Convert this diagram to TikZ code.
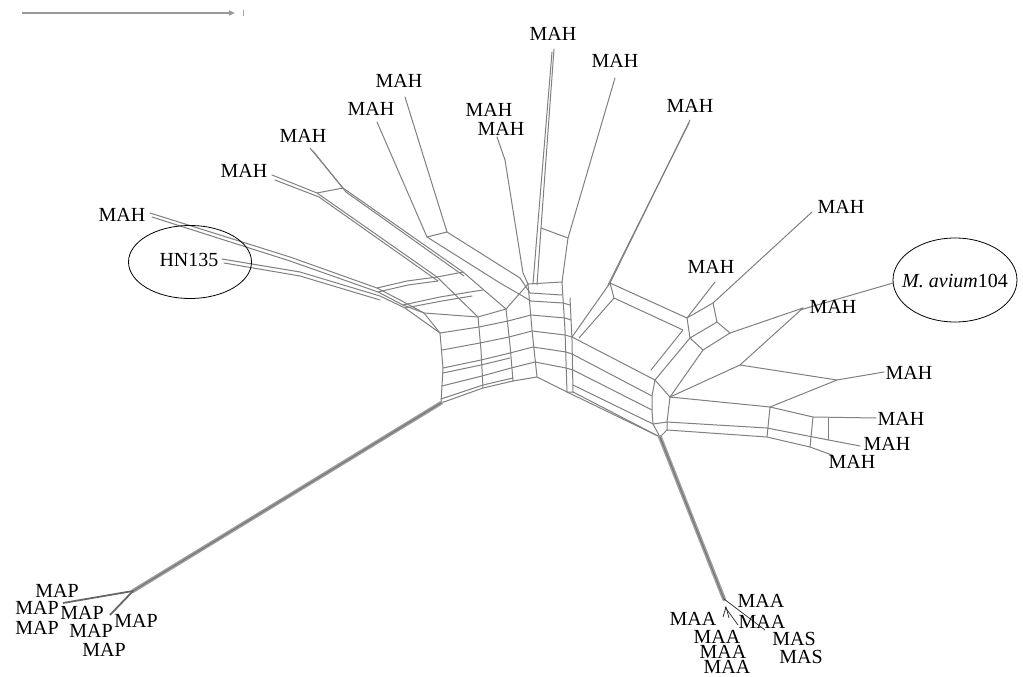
\documentclass[tikz,border=0pt]{standalone}
\usepackage{fontspec}
\setmainfont{Liberation Serif}
\usetikzlibrary{shapes.geometric}
\begin{document}
\begin{tikzpicture}[x=1pt,y=-1pt,
  net/.style={draw=black!50, line width=1pt, line join=round, line cap=round},
  trunk/.style={draw=black!38, line width=4pt, line cap=round},
  trunkcore/.style={draw=black!55, line width=1pt},
  twig/.style={draw=black!85, line width=0.7pt},
  lbl/.style={anchor=base, inner sep=0pt, font=\fontsize{20}{22}\selectfont},
  ring/.style={draw=black, line width=0.8pt, ellipse, inner sep=0pt}]
\useasboundingbox (0,0) rectangle (1023,677);
\fill[white] (0,0) rectangle (1023,677);

% ---------- scale bar ----------
\coordinate (sb0) at (22,13);
\coordinate (sb1) at (233,13);
\draw[black!40, line width=1.2pt] (sb0) -- (sb1);
\draw[black!40, line width=1.4pt] (229,11) -- (sb1) -- (229,15);
\draw[black!35, line width=0.8pt] (243,10) -- (243,16);

% ---------- leaf tips ----------
\coordinate (t1) at (150,213);
\coordinate (t2) at (222,259);
\coordinate (t3) at (272,175);
\coordinate (t4) at (310,148);
\coordinate (t5) at (377,122);
\coordinate (t6) at (405,97);
\coordinate (t7) at (497,137);
\coordinate (t8) at (554,49);
\coordinate (t9) at (615,78);
\coordinate (t10) at (690,120);
\coordinate (t11) at (812,212);
\coordinate (t12) at (715,282);
\coordinate (t13) at (893,283);
\coordinate (t14) at (803,308);
\coordinate (t15) at (884,372);
\coordinate (t16) at (876,418);
\coordinate (t17) at (860,446);
\coordinate (t18) at (832,455);
\coordinate (jp) at (133,591);
\coordinate (ja) at (724,599);

% ---------- hub ----------
\coordinate (c0) at (400,300);
\coordinate (c1) at (424,313);
\coordinate (c2) at (440,333);
\coordinate (c3) at (443,368);
\coordinate (c4) at (441,403);
\coordinate (h1) at (567,392);
\coordinate (h2) at (660,437);

\draw[net] (c0) -- (c1) -- (c2) -- (c3) -- (c4);
% verticals of the left block
\draw[net] (478,317) -- (481,350) -- (483,388);
\draw[net] (506,309) -- (510,345) -- (513,381);
\draw[net] (528,284) -- (532,330) -- (537,377);
\draw[net] (562,282) -- (565,330) -- (h1);
\draw[net] (570,298) -- (572,340) -- (573,392);
% bands across the hub
\draw[net] (c1) -- (478,317) -- (506,309) -- (528,284) -- (562,282);
\draw[net] (c2) -- (479,327) -- (508,321) -- (531,315) -- (565,318) -- (571,320);
\draw[net] (442,350) -- (480,343) -- (509,337) -- (532,331) -- (565,335) -- (572,337);
\draw[net] (c3) -- (481,360) -- (510,353) -- (533,347) -- (566,352) -- (572,354);
\draw[net] (443,373) -- (481,365) -- (510,358);
\draw[net] (442,386) -- (482,376) -- (511,368) -- (535,362) -- (566,368) -- (573,370);
\draw[net] (c4) -- (483,388) -- (513,381) -- (537,377) -- (h1) -- (573,392);
\draw[net] (441,399) -- (483,385) -- (513,378);
\draw[net] (530,293) -- (562,295);
\draw[net] (531,301) -- (563,303) -- (570,305);
% lower right block of the hub
\draw[net] (572,337) -- (655,380);
\draw[net] (572,354) -- (652,396);
\draw[net] (573,370) -- (652,410);
\draw[net] (573,385) -- (653,424);
\draw[net] (h1) -- (h2);
\draw[net] (573,392) -- (h2);
\draw[net] (655,380) -- (652,396) -- (652,410) -- (653,424) -- (h2);
\draw[net] (670,397) -- (667,422) -- (667,430);
\draw[net] (655,380) -- (670,397);
\draw[net] (653,424) -- (667,422);
\draw[net] (h2) -- (667,430);

% ---------- left arms (MAH, HN135) ----------
\draw[net] (t1) -- (290,257) -- (377,288) -- (c0);
\draw[net] (152,217) -- (290,261) -- (378,292) -- (403,305) -- (c1);
\draw[net] (t2) -- (300,272) -- (380,296) -- (405,308) -- (c2);
\draw[net] (224,263) -- (300,276) -- (380,300);
\draw[net] (377,288) -- (407,281) -- (437,277);
\draw[net] (378,292) -- (408,285) -- (438,281);
\draw[net] (403,305) -- (440,297) -- (470,292) -- (483,290);
\draw[net] (405,308) -- (442,301) -- (472,296);

% ---------- upper left arms ----------
\draw[net] (t3) -- (317,193) -- (437,277) -- (478,317);
\draw[net] (275,180) -- (319,197) -- (438,281);
\draw[net] (t4) -- (343,188) -- (463,272) -- (506,309);
\draw[net] (313,151) -- (346,192) -- (464,276);
\draw[net] (317,193) -- (343,188);
\draw[net] (437,277) -- (463,272);
\draw[net] (t5) -- (427,237) -- (500,283) -- (531,301);
\draw[net] (t6) -- (447,232) -- (520,278) -- (530,293);
\draw[net] (427,237) -- (447,232);
\draw[net] (t7) -- (505,160) -- (523,273) -- (528,284);

% ---------- upper arms ----------
\draw[net] (t8) -- (541,228) -- (537,285);
\draw[net] (552,52) -- (538,222) -- (533,284);
\draw[net] (t9) -- (568,238) -- (562,282);
\draw[net] (541,228) -- (568,238);
\draw[net] (t10) -- (610,283);
\draw[net] (689,123) -- (608,285);

% ---------- right box and arms ----------
\draw[net] (572,337) -- (610,283) -- (687,318) -- (690,338) -- (655,380);
\draw[net] (579,338) -- (614,298) -- (683,330) -- (651,370);
\draw[net] (610,283) -- (614,298);
\draw[net] (t11) -- (713,303) -- (687,318);
\draw[net] (t12) -- (687,318);
\draw[net] (713,303) -- (717,322) -- (690,338);
\draw[net] (717,322) -- (730,333) -- (703,350) -- (690,338);
\draw[net] (703,350) -- (670,397);
\draw[net] (t14) -- (730,333);
\draw[net] (t13) -- (800,310);
\draw[net] (t14) -- (740,365);
\draw[net] (t15) -- (837,380) -- (740,365) -- (670,397);
\draw[net] (837,380) -- (770,407);
\draw[net] (670,397) -- (770,407) -- (813,417) -- (t16);
\draw[net] (667,422) -- (767,428) -- (813,437) -- (t17);
\draw[net] (667,430) -- (767,437) -- (810,447) -- (t18);
\draw[net] (770,407) -- (767,437);
\draw[net] (813,417) -- (810,447);
\draw[net] (828,418) -- (828,440);

% ---------- long branches ----------
\draw[trunk] (c4) -- (jp);
\draw[trunkcore] (c4) -- (jp);
\draw[draw=black!60, line width=1.8pt] (jp) -- (63,603);
\draw[draw=black!60, line width=1.8pt] (jp) -- (110,615);
\draw[trunk] (h2) -- (ja);
\draw[trunkcore] (h2) -- (ja);
\draw[twig] (ja) -- (765,630);
\draw[twig] (725,607) -- (738,625);
\draw[twig] (723,617) -- (726,607) -- (729,618);

% ---------- circled taxa ----------
\node[ring, minimum width=123pt, minimum height=73pt] (hnring) at (190,262) {};
\node[ring, minimum width=124pt, minimum height=84pt] (avring) at (955,280) {};

% ---------- labels ----------
\node[lbl] (l1) at (553,41) {MAH};
\node[lbl] (l2) at (615,68) {MAH};
\node[lbl] (l3) at (489,117) {MAH};
\node[lbl] (l4) at (501,135) {MAH};
\node[lbl] (l5) at (399,88) {MAH};
\node[lbl] (l6) at (371,115) {MAH};
\node[lbl] (l7) at (690,112) {MAH};
\node[lbl] (l8) at (303,142) {MAH};
\node[lbl] (l9) at (244,177) {MAH};
\node[lbl] (l10) at (122,221) {MAH};
\node[lbl] (hn) at (189,266) {HN135};
\node[lbl] (l11) at (841,213) {MAH};
\node[lbl] (l12) at (711,273) {MAH};
\node[lbl] (av) at (955,287) {\textit{M. avium}104};
\node[lbl] (l13) at (833,313) {MAH};
\node[lbl] (l14) at (909,379) {MAH};
\node[lbl] (l15) at (901,425) {MAH};
\node[lbl] (l16) at (887,450) {MAH};
\node[lbl] (l17) at (852,468) {MAH};

\node[lbl] (p1) at (57,597) {MAP};
\node[lbl] (p2) at (37,614) {MAP};
\node[lbl] (p3) at (82,619) {MAP};
\node[lbl] (p4) at (37,634) {MAP};
\node[lbl] (p5) at (91,637) {MAP};
\node[lbl] (p6) at (136,627) {MAP};
\node[lbl] (p7) at (104,656) {MAP};

\node[lbl] (a1) at (761,607) {MAA};
\node[lbl] (a2) at (693,625) {MAA};
\node[lbl] (a3) at (762,628) {MAA};
\node[lbl] (a4) at (717,643) {MAA};
\node[lbl] (a5) at (723,658) {MAA};
\node[lbl] (a6) at (727,673) {MAA};
\node[lbl] (s1) at (794,645) {MAS};
\node[lbl] (s2) at (801,663) {MAS};
\end{tikzpicture}
\end{document}
